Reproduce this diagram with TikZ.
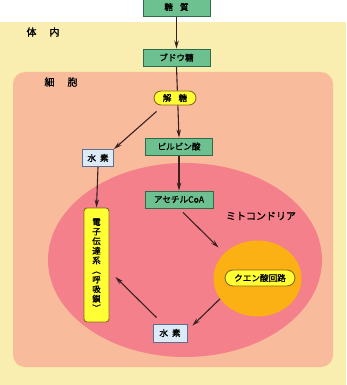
\documentclass[tikz,border=0pt]{standalone}
\usepackage{fontspec}
\setmainfont{Noto Sans CJK JP}[AutoFakeBold=1.3]
\usetikzlibrary{arrows.meta,calc,shapes.geometric}
\definecolor{bodyY}{HTML}{FAEDB0}
\definecolor{cellS}{HTML}{F8BC9C}
\definecolor{mitoP}{HTML}{F3808A}
\definecolor{orangeC}{HTML}{FBB114}
\definecolor{greenB}{HTML}{6DC08F}
\definecolor{greenE}{HTML}{2F6B4B}
\definecolor{yelB}{HTML}{FFFF33}
\definecolor{yelE}{HTML}{8A6A20}
\definecolor{blueB}{HTML}{DCEBF7}
\definecolor{blueE}{HTML}{5A6F90}
\definecolor{arrC}{HTML}{3A2020}
\pgfdeclarelayer{bg}
\pgfdeclarelayer{arl}
\pgfsetlayers{bg,arl,main}
\begin{document}
\begin{tikzpicture}[x=1pt,y=-1pt,
  txt/.style={font=\fontsize{8.6}{9}\selectfont\bfseries, text=black, inner sep=0pt},
  gbox/.style={txt, rectangle, draw=greenE, fill=greenB, line width=0.9pt, minimum width=67pt, minimum height=17pt},
  bbox/.style={txt, rectangle, draw=blueE, fill=blueB, line width=0.8pt, minimum width=31pt, minimum height=17pt},
  ybox/.style={txt, rectangle, rounded corners=7pt, draw=yelE, fill=yelB, line width=0.9pt},
  arr/.style={draw=arrC, line width=1.1pt, -{Stealth[length=8pt,width=4.5pt]}},
  lbl/.style={font=\fontsize{10}{11}\selectfont\bfseries, text=black, inner sep=0pt}]
\useasboundingbox (0,0) rectangle (346,385);
\begin{pgfonlayer}{bg}
  \fill[white] (0,0) rectangle (346,385);
  \fill[bodyY] (0,22) rectangle (346,385);
  \fill[cellS, rounded corners=12pt] (13,72) rectangle (333,367);
  \fill[mitoP] (185,260) ellipse [x radius=137, y radius=97];
\end{pgfonlayer}
\node[ellipse, fill=orangeC, minimum width=88pt, minimum height=76pt, inner sep=0pt] (citric) at (257.5,278.5) {};
\node[lbl] (tainai) at (43,32) {体\hspace{13pt}内};
\node[lbl] (saibou) at (61,82) {細\hspace{13pt}胞};
\node[lbl] (mito) at (261,216) {ミトコンドリア};
\node[gbox, minimum height=18pt] (tousitsu) at (176.5,7) {糖\hspace{7pt}質};
\node[gbox] (budou) at (176.5,57.5) {ブドウ糖};
\node[ybox, minimum width=42pt, minimum height=14pt] (kaito) at (175,98) {解\hspace{7pt}糖};
\node[bbox] (suiso1) at (98,158) {水\hspace{4pt}素};
\node[gbox] (pyruvic) at (179,146.5) {ピルビン酸};
\node[gbox, minimum width=68pt] (acetyl) at (179,199.5) {アセチルCoA};
\node[ybox, rounded corners=3pt, minimum width=25pt, minimum height=114pt, align=center, font=\fontsize{8.4}{9.6}\selectfont\bfseries] (denshi) at (96.5,265) {電\\子\\伝\\達\\系\\︵\\呼\\吸\\鎖\\︶};
\node[ybox, minimum width=70pt, minimum height=16pt, rounded corners=8pt] (kuen) at (260,278) {クエン酸回路};
\node[bbox, minimum width=34pt, minimum height=18pt] (suiso2) at (170,333) {水\hspace{4pt}素};
\begin{pgfonlayer}{arl}
  \draw[arr] (tousitsu.south) -- (budou.north);
  \draw[arr] (budou.south) -- (pyruvic.north);
  \draw[arr] ($(kaito.south west)+(3,6)$) -- (suiso1.north east);
  \draw[arr] (suiso1.south) -- (denshi.north);
  \draw[arr] (pyruvic.south) -- (acetyl.north);
  \draw[arr] ($(acetyl.south)+(4,4)$) -- ($(citric.center)+(-39,-31)$);
  \draw[arr] ($(citric.center)+(-32,15)$) -- ($(suiso2.north east)+(5,2)$);
  \draw[arr] ($(suiso2.north west)+(4,-6)$) -- ($(denshi.east)+(6,12)$);
\end{pgfonlayer}
\end{tikzpicture}
\end{document}
